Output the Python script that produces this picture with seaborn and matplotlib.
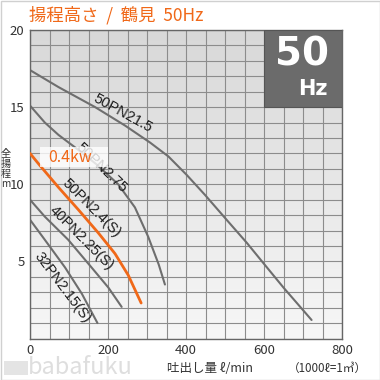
import numpy as np
import pandas as pd
import matplotlib
matplotlib.use("Agg")
import matplotlib.pyplot as plt
from matplotlib.patches import Rectangle
import seaborn as sns

# ---------------- data ----------------
models = ["50PN21.5", "50PN2.75", "50PN2.4(S)", "40PN2.25(S)", "32PN2.15(S)"]
flow_50PN21_5 = [0, 73, 167, 244, 308, 355, 402, 449, 504, 556, 598, 650, 722]
head_50PN21_5 = [17.4, 16.3, 15.0, 13.8, 12.7, 11.8, 10.6, 9.3, 7.7, 6.2, 4.9, 3.3, 1.2]
flow_50PN2_75 = [0, 38, 73, 115, 170, 226, 269, 303, 330, 346]
head_50PN2_75 = [15.1, 14.0, 13.2, 12.4, 11.3, 10.0, 8.5, 6.6, 4.8, 3.5]
flow_50PN2_4 = [0, 26, 73, 124, 175, 218, 252, 285]
head_50PN2_4 = [12.0, 11.2, 9.8, 8.35, 6.85, 5.5, 4.1, 2.3]
flow_40PN2_25 = [0, 38, 98, 158, 201, 235]
head_40PN2_25 = [9.0, 7.9, 6.4, 4.6, 3.3, 2.05]
flow_32PN2_15 = [0, 38, 90, 133, 173]
head_32PN2_15 = [7.7, 6.4, 4.6, 2.9, 1.0]

x_ticks = [0, 200, 400, 600, 800]
y_ticks = [5, 10, 15, 20]
title_text = "揚程高さ  /  鶴見  50Hz"
ylabel_text = "全\n揚\n程\nm"
xlabel_text = "吐出し量 ℓ/min"
unit_note = "（1000ℓ=1㎥）"
power_label = "0.4kw"
hz_big = "50"
hz_small = "Hz"

flows = [flow_50PN21_5, flow_50PN2_75, flow_50PN2_4, flow_40PN2_25, flow_32PN2_15]
heads = [head_50PN21_5, head_50PN2_75, head_50PN2_4, head_40PN2_25, head_32PN2_15]
df = pd.concat([pd.DataFrame({"flow": f, "head": h, "model": m})
                for f, h, m in zip(flows, heads, models)], ignore_index=True)

# ---------------- style ----------------
sns.set_theme(style="white")
plt.rcParams["font.family"] = ["Noto Sans CJK JP", "DejaVu Sans"]

GRAY_LINE = "#6e6e6e"
ORANGE = "#f06818"

fig = plt.figure(figsize=(3.8, 3.8), dpi=100)
ax = fig.add_axes([30/380, 1-338.5/380, 312/380, 308.5/380])

# plot background gradient
grad = np.linspace(0, 1, 256).reshape(-1, 1)
cmap = matplotlib.colors.LinearSegmentedColormap.from_list("g", ["#f7f7f7", "#d8d8d8"])
ax.imshow(grad, extent=[0, 800, 0, 20], aspect="auto", cmap=cmap, origin="lower", zorder=0)

palette = {m: GRAY_LINE for m in models}
palette["50PN2.4(S)"] = ORANGE
for m in models:
    sub = df[df["model"] == m]
    sns.lineplot(data=sub, x="flow", y="head", ax=ax, color=palette[m], sort=False,
                 lw=2.0 if m == "50PN2.4(S)" else 1.5, zorder=3 if m == "50PN2.4(S)" else 2,
                 legend=False, estimator=None, solid_joinstyle="round", solid_capstyle="round")

ax.set_xlim(0, 800)
ax.set_ylim(0, 20)
ax.set_xticks(x_ticks)
ax.set_yticks(y_ticks)
ax.set_xticks(np.arange(0, 801, 50), minor=True)
ax.set_yticks(np.arange(0, 21, 1), minor=True)
ax.grid(which="both", color="#8c8c8c", lw=0.8, zorder=1)
ax.set_axisbelow(True)
ax.tick_params(which="both", length=0, labelsize=9.5, labelcolor="#333333", pad=4)
ax.set_xlabel("")
ax.set_ylabel("")
for s in ax.spines.values():
    s.set_color("#666666")
    s.set_linewidth(1.0)

# curve labels
lab_kw = dict(ha="center", va="center", rotation_mode="anchor", fontsize=10.5,
              color="#1e1e1e", family=["Liberation Sans", "DejaVu Sans"], zorder=4)
ax.text(238, 14.6, "50PN21.5", rotation=-29, **lab_kw)
ax.text(184, 11.1, "50PN2.75", rotation=-44, **lab_kw)
ax.text(157, 8.45, "50PN2.4(S)", rotation=-45, **lab_kw)
ax.text(131, 6.5, "40PN2.25(S)", rotation=-45, **lab_kw)
ax.text(83, 3.3, "32PN2.15(S)", rotation=-53, **lab_kw)

# 0.4kw box
ax.add_patch(Rectangle((26, 11.1), 174, 1.3, facecolor="white", alpha=0.8, edgecolor="none", zorder=5))
ax.text(103, 11.72, power_label, ha="center", va="center", fontsize=11.5, color=ORANGE, zorder=6)

# 50 Hz box
ax.add_patch(Rectangle((600, 15), 200, 5, facecolor="#6b6b6b", edgecolor="#555555", lw=0.8, zorder=5))
ax.text(697, 18.4, hz_big, ha="center", va="center", fontsize=28, fontweight="bold",
        color="white", family=["DejaVu Sans"], zorder=6)
ax.text(726, 16.2, hz_small, ha="center", va="center", fontsize=15, fontweight="bold",
        color="white", family=["DejaVu Sans"], zorder=6)

# figure texts
fig.text(29/380, 1-15/380, title_text, ha="left", va="center", fontsize=12.5, color=ORANGE)
fig.text(5.5/380, 1-169/380, ylabel_text, ha="center", va="center", fontsize=7.3,
         color="#333333", linespacing=1.0, rotation=0)
fig.text(210/380, 1-368/380, xlabel_text, ha="center", va="center", fontsize=9, color="#333333")
fig.text(327/380, 1-368/380, unit_note, ha="center", va="center", fontsize=8.4, color="#333333")
fig.text(80/380, 1-368/380, "babafuku", ha="center", va="center", fontsize=17, color="#dedede")
fig.patches.append(Rectangle((4/380, 1-375/380), 24/380, 14/380, transform=fig.transFigure,
                             facecolor="#e4e4e4", edgecolor="none"))
fig.patches.append(Rectangle((0.5/380, 0.5/380), 379/380, 379/380, transform=fig.transFigure,
                             facecolor="none", edgecolor="#d0d0d0", lw=1))

fig.savefig("out.png", dpi=100)
